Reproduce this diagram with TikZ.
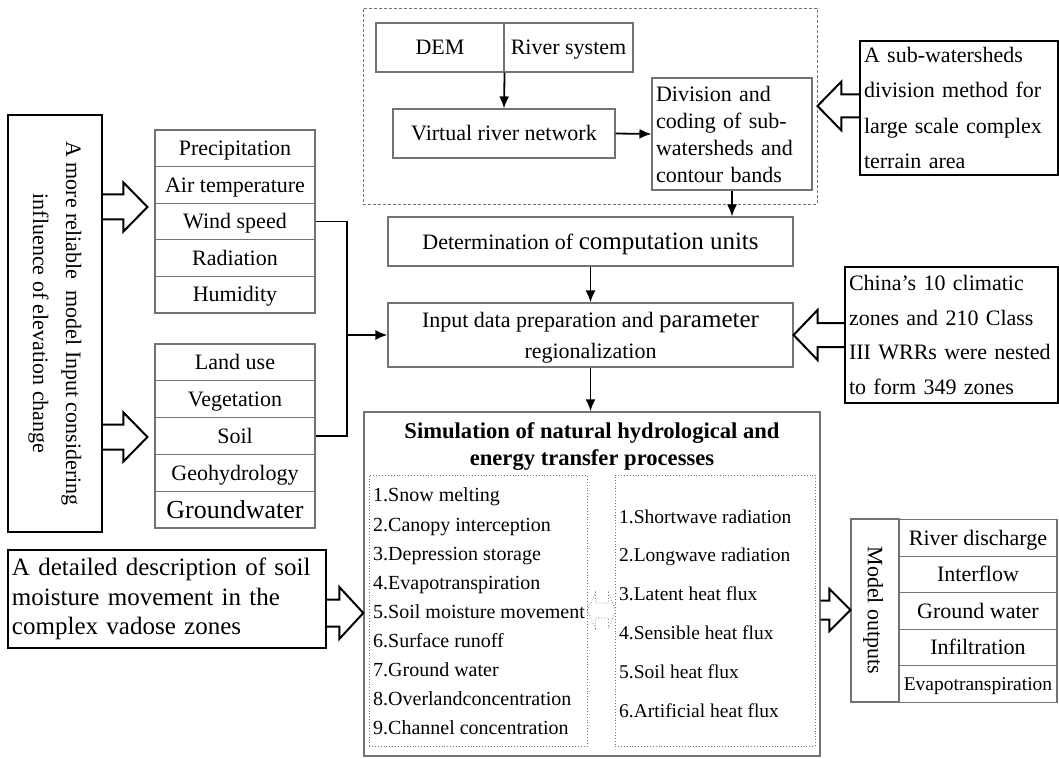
\documentclass[tikz,border=0pt]{standalone}
\usepackage{fontspec}
\setmainfont{Liberation Serif}
\usetikzlibrary{arrows.meta,calc}
\tikzset{
  gbox/.style={draw=black!55, line width=1.1pt, inner sep=0pt},
  kbox/.style={draw=black, line width=2.4pt, inner sep=0pt},
  dashbox/.style={draw=black!55, line width=0.9pt, dash pattern=on 3pt off 2pt},
  dotbox/.style={draw=black!55, line width=0.9pt, dotted},
  arr/.style={line width=1.8pt, -{Latex[length=12pt,width=10pt]}},
  link/.style={line width=1.8pt},
  barrow/.style={draw=black, line width=2pt, line join=miter},
  f22/.style={font=\fontsize{22}{26}\selectfont, text height=16pt, text depth=1.5pt},
}
\newcommand\blockarr[5]{%
  \draw[barrow] let \p1=(#1), \p2=(#2), \n1={ifthenelse(\x2>\x1,1,-1)} in
   (\x1,{\y1+#3pt}) -- ({\x2-(\n1)*#5pt},{\y1+#3pt}) -- ({\x2-(\n1)*#5pt},{\y1+#4pt})
   -- (\x2,\y1) -- ({\x2-(\n1)*#5pt},{\y1-#4pt}) -- ({\x2-(\n1)*#5pt},{\y1-#3pt}) -- (\x1,{\y1-#3pt});}
\begin{document}
\begin{tikzpicture}[x=1pt,y=-1pt]
\useasboundingbox (0,0) rectangle (1059,759);

% ---------- top dashed group ----------
\node[dashbox, minimum width=454, minimum height=196] (dashed) at (590,106) {};
\node[gbox, f22, minimum width=128, minimum height=49] (dem) at (440,47.5) {DEM};
\node[gbox, f22, minimum width=129, minimum height=49] (river) at (568.5,47.5) {River system};
\node[gbox, f22, minimum width=222, minimum height=49] (vrn) at (504,133.5) {Virtual river network};
\node[gbox, minimum width=160, minimum height=112, text width=152, align=left,
      font=\fontsize{22}{27}\selectfont] (div) at (732,134) {Division and\\coding of sub-\\watersheds and\\contour bands};
\draw[arr] (dem.south east) -- (vrn.north);
\draw[arr] (vrn.east) -- (div.west);

% ---------- central column ----------
\node[gbox, minimum width=405, minimum height=49, text height=17pt, text depth=1.5pt,
      font=\fontsize{22}{26}\selectfont] (det) at (590.5,241.5)
  {Determination of {\fontsize{25}{26}\selectfont computation units}};
\node[gbox, minimum width=405, minimum height=64, align=center,
      font=\fontsize{22}{31}\selectfont] (inp) at (590.5,335)
  {\rule{0pt}{20pt}Input data preparation and {\fontsize{25}{31}\selectfont parameter}\\regionalization};
\draw[arr] (div.south) -- (div.south |- det.north);
\draw[arr] (det.south) -- (inp.north);

\node[draw=black!55, line width=1.4pt, minimum width=456, minimum height=344, inner sep=0pt] (sim) at (592,584) {};
\draw[arr] (inp.south) -- (inp.south |- sim.north);
\node[font=\bfseries\fontsize{22.6}{27}\selectfont, align=center] (simt) at (592,446.5)
  {Simulation of natural hydrological and\\energy transfer processes};
\node[dotbox, minimum width=218, minimum height=271] (ll) at (478,610.5) {};
\node[dotbox, minimum width=200, minimum height=271] (rl) at (715,610.5) {};
\node[anchor=west, align=left, inner sep=0pt, font=\fontsize{20}{29.1}\selectfont] (lltext) at (373,611.5)
  {1.Snow melting\\2.Canopy interception\\3.Depression storage\\4.Evapotranspiration\\5.Soil moisture movement\\6.Surface runoff\\7.Ground water\\8.Overlandconcentration\\9.Channel concentration};
\node[anchor=west, align=left, inner sep=0pt, font=\fontsize{19.5}{38.8}\selectfont] (rltext) at (619,613.5)
  {1.Shortwave radiation\\2.Longwave radiation\\3.Latent heat flux\\4.Sensible heat flux\\5.Soil heat flux\\6.Artificial heat flux};
\draw[draw=black!50, line width=0.8pt, dotted] (ll.east) -- ++(8,-18) -- ++(0,10.5) -- ++(13,0) -- ++(0,-10.5)
  -- ++(7,18) -- ++(-7,18) -- ++(0,-10.5) -- ++(-13,0) -- ++(0,10.5) -- cycle;

% ---------- left inputs ----------
\node[kbox, rotate=-90, minimum width=417, minimum height=94, align=center,
      font=\fontsize{22}{33}\selectfont] (lbox) at (55,323.5)
  {A more reliable\ \ model Input considering\\influence of elevation change};
\foreach \t [count=\i] in {Precipitation, Air temperature, Wind speed, Radiation, Humidity}
  \node[gbox, f22, minimum width=160, minimum height=36.6] (met\i) at (235,{148.3+36.6*(\i-1)}) {\t};
\foreach \t [count=\i] in {Land use, Vegetation, Soil, Geohydrology}
  \node[gbox, f22, minimum width=160, minimum height=36.8] (land\i) at (235,{362.4+36.8*(\i-1)}) {\t};
\node[gbox, font=\fontsize{26}{28}\selectfont, text height=19pt, text depth=1.5pt, minimum width=160, minimum height=36.8] (land5) at (235,509.6) {Groundwater};

\coordinate (jn) at (inp.west -| 347,0);
\draw[link] (met3.east) -| (jn);
\draw[link] (land3.east) -| (jn);
\draw[arr] (jn) -- (inp.west);

\node[kbox, minimum width=318, minimum height=98, text width=310, align=left,
      font=\fontsize{25}{29.5}\selectfont] (dbox) at (167,599)
  {A detailed description of soil\\moisture movement in the\\complex vadose zones};

% ---------- right side ----------
\node[kbox, minimum width=198, minimum height=134, text width=190, align=left,
      font=\fontsize{22}{35.3}\selectfont] (rtbox) at (959,108)
  {A sub-watersheds\\division method for\\large scale complex\\terrain area};
\node[kbox, minimum width=213, minimum height=136, text width=205, align=left,
      font=\fontsize{22}{34.7}\selectfont] (china) at (951.5,335)
  {China’s 10 climatic\\zones and 210 Class\\III WRRs were nested\\to form 349 zones};

\node[gbox, rotate=-90, minimum width=183, minimum height=48, f22] (outl) at (875,610.5) {Model outputs};
\foreach \t [count=\i] in {River discharge, Interflow, Ground water, Infiltration}
  \node[gbox, f22, minimum width=158, minimum height=36.6] (out\i) at (978,{537.8+36.6*(\i-1)}) {\t};
\node[gbox, font=\fontsize{19.5}{22}\selectfont, text height=14pt, text depth=1.5pt, minimum width=158, minimum height=36.6] (out5) at (978,684.2) {Evapotranspiration};

% ---------- block arrows ----------
\coordinate (s1) at (lbox.north |- 0,207);
\coordinate (s2) at (lbox.north |- 0,437);
\coordinate (s3) at (rtbox.west |- dashed.east);
\coordinate (s5) at (dbox.east |- 0,613);
\coordinate (s6) at (sim.east |- 0,610);
\blockarr{s1}{$(met1.west |- s1)+(-7,0)$}{12.5}{24.5}{24}
\blockarr{s2}{$(land3.west |- s2)+(-7,0)$}{12.5}{24.5}{24}
\blockarr{s3}{dashed.east}{11.5}{24.5}{24}
\blockarr{china.west}{inp.east}{12}{25}{24}
\blockarr{s5}{sim.west |- s5}{13.5}{26}{24}
\blockarr{s6}{outl.south |- s6}{9.5}{21}{21}
\end{tikzpicture}
\end{document}
